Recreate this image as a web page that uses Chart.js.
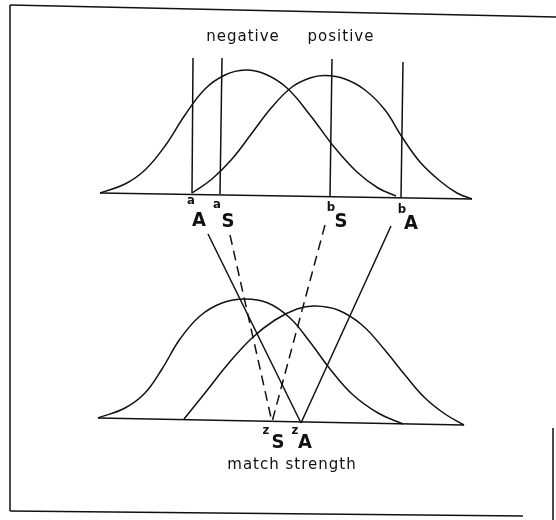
<!DOCTYPE html>
<html>
<head>
<meta charset="utf-8">
<script src="https://cdn.jsdelivr.net/npm/chart.js@4/dist/chart.umd.min.js"></script>
<style>
  body { margin: 0; background: #fff; }
  #wrap { width: 556px; height: 520px; }
</style>
</head>
<body>
<div id="wrap"><canvas id="myChart" width="556" height="520"></canvas></div>
<script>
// diagram units: x to the right, y downwards (0..556, 0..520)

// top panel - criteria on the evidence axis
var topNegative = [[100,193],[125,184],[145,170],[165,146],[185,115],[205,89],[225,75],[245,70],[265,74],[287,88],[310,115],[335,148],[357,172],[378,188],[396,196]];
var topPositive = [[192,193],[212,179],[232,159],[252,133],[272,107],[292,87],[310,78],[325,75.5],[345,79],[365,90],[385,110],[402,137],[420,162],[440,181],[457,193],[472,199]];
var topBase = [[100,193],[472,199]];

// bottom panel - match strength
var botNegative = [[98,418],[125,408],[145,393],[162,369],[180,339],[200,316],[222,303],[245,299],[268,303],[290,318],[310,342],[330,369],[352,394],[378,413],[403,424]];
var botPositive = [[184,419],[205,393],[228,364],[252,338],[275,320],[297,309],[315,306],[338,310],[362,325],[384,349],[405,375],[425,398],[445,414],[464,425]];
var botBase = [[98,418],[464,425]];

// criterion lines
var critNames = ['aA', 'aS', 'bS', 'bA'];
var critTop = [[193,58],[222,58],[332,59],[403,62]];
var critBottom = [[192,193],[220,194],[330,196],[401,198]];

// mapping lines to z
var mapFrom = [[208,234],[230,235],[325,225],[391,226]];
var mapTo = [[301,423],[272,422],[272,422],[301,423]];
var mapDashed = [false, true, true, false];

// frame pieces
var frameLines = [
  [[10,5],[556,17]],
  [[10,5],[10,511]],
  [[10,511],[523,516]],
  [[553,428],[553,520]]
];

// text labels
var plainLabels = [
  ['negative', 243, 37],
  ['positive', 341, 37],
  ['match strength', 292, 465]
];
// [small letter, x, y, big letter, x, y]
var subLabels = [
  ['a', 191, 201, 'A', 199, 221],
  ['a', 217, 205, 'S', 228, 222],
  ['b', 331, 208, 'S', 341, 222],
  ['b', 402, 210, 'A', 411, 224],
  ['z', 266, 431, 'S', 278, 443],
  ['z', 295, 431, 'A', 305, 443]
];

function pts(arr) {
  return arr.map(function (p) { return {x: p[0], y: p[1]}; });
}

function lineSet(arr, dashed, smooth) {
  return {
    data: pts(arr),
    showLine: true,
    borderColor: '#111',
    borderWidth: 1.5,
    pointRadius: 0,
    borderDash: dashed ? [10, 6] : [],
    tension: smooth ? 0.4 : 0,
    fill: false
  };
}

var datasets = [];
[topNegative, topPositive, botNegative, botPositive].forEach(function (c) {
  datasets.push(lineSet(c, false, true));
});
datasets.push(lineSet(topBase, false, false));
datasets.push(lineSet(botBase, false, false));
for (var i = 0; i < critNames.length; i++) {
  datasets.push(lineSet([critTop[i], critBottom[i]], false, false));
  datasets.push(lineSet([mapFrom[i], mapTo[i]], mapDashed[i], false));
}
frameLines.forEach(function (f) {
  datasets.push(lineSet(f, false, false));
});

var textPlugin = {
  id: 'texts',
  afterDraw: function (chart) {
    var ctx = chart.ctx;
    var sx = chart.scales.x, sy = chart.scales.y;
    ctx.save();
    ctx.fillStyle = '#111';
    ctx.textAlign = 'center';
    ctx.textBaseline = 'middle';
    ctx.font = '15px "DejaVu Sans"';
    ctx.letterSpacing = '1px';
    plainLabels.forEach(function (l) {
      ctx.fillText(l[0], sx.getPixelForValue(l[1]), sy.getPixelForValue(l[2]));
    });
    ctx.letterSpacing = '0px';
    subLabels.forEach(function (l) {
      ctx.font = 'bold 13px "DejaVu Sans Condensed", "DejaVu Sans"';
      ctx.fillText(l[0], sx.getPixelForValue(l[1]), sy.getPixelForValue(l[2]));
      ctx.font = 'bold 20px "DejaVu Sans Condensed", "DejaVu Sans"';
      ctx.fillText(l[3], sx.getPixelForValue(l[4]), sy.getPixelForValue(l[5]));
    });
    ctx.restore();
  }
};

new Chart(document.getElementById('myChart'), {
  type: 'scatter',
  data: { datasets: datasets },
  options: {
    responsive: false,
    animation: false,
    devicePixelRatio: 1,
    layout: { padding: 0 },
    clip: false,
    plugins: { legend: { display: false }, tooltip: { enabled: false } },
    scales: {
      x: { type: 'linear', min: 0, max: 556, display: false },
      y: { type: 'linear', min: 0, max: 520, reverse: true, display: false }
    }
  },
  plugins: [textPlugin]
});
</script>
</body>
</html>
